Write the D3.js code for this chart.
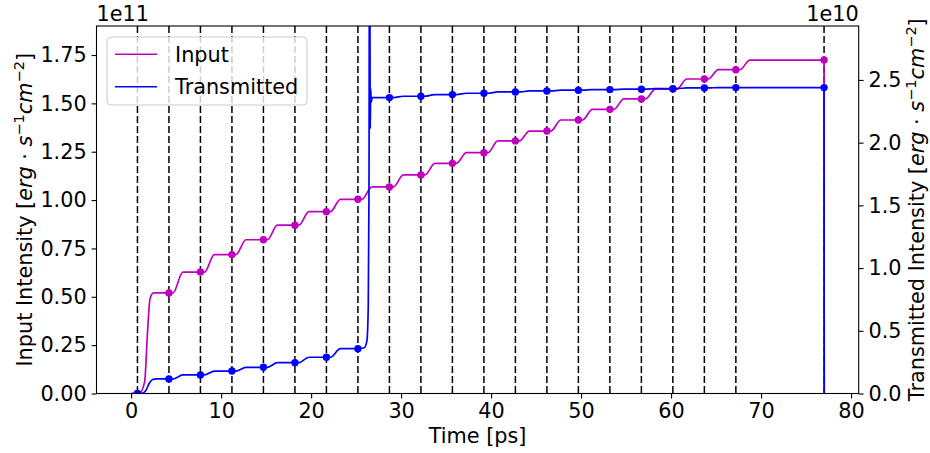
<!DOCTYPE html>
<html>
<head>
<meta charset="utf-8">
<script src="https://cdn.jsdelivr.net/npm/d3@7"></script>
<style>
  html, body { margin: 0; padding: 0; background: #fff; }
  svg { display: block; font-family: "DejaVu Sans", sans-serif; }
</style>
</head>
<body>
<svg id="chart" width="930" height="453"></svg>
<script>
// Pulse arrival times (dashed guides), in ps
const pulseTimes = [0.7, 4.2, 7.7, 11.2, 14.7, 18.2, 21.7, 25.2, 28.7, 32.2, 35.7,
                    39.2, 42.7, 46.2, 49.7, 53.2, 56.7, 60.2, 63.7, 67.2, 77.0];

// Input intensity sampled at each pulse time [erg s^-1 cm^-2]
const inputAtPulse = [0, 0.520e11, 0.628e11, 0.718e11, 0.795e11, 0.870e11, 0.940e11,
                      1.004e11, 1.068e11, 1.130e11, 1.190e11, 1.245e11, 1.306e11, 1.357e11,
                      1.414e11, 1.469e11, 1.523e11, 1.574e11, 1.626e11, 1.674e11, 1.724e11];

// Transmitted intensity sampled at each pulse time [erg s^-1 cm^-2]
const transmittedAtPulse = [0, 0.116e10, 0.148e10, 0.179e10, 0.209e10, 0.246e10, 0.289e10,
                            0.357e10, 2.359e10, 2.370e10, 2.383e10, 2.394e10, 2.404e10, 2.412e10,
                            2.418e10, 2.423e10, 2.426e10, 2.431e10, 2.436e10, 2.439e10, 2.439e10];

// Detailed segments of the traces where they leave the staircase pattern
const inputRise = [[0.9, 0], [1.5, 0.06e11], [1.8, 0.30e11], [2.1, 0.49e11], [2.5, 0.52e11]];
const transmittedRise = [[1.1, 0], [1.6, 0.02e10], [2.0, 0.08e10], [2.4, 0.112e10], [2.8, 0.116e10]];
const transmittedSwitch = [[25.9, 0.365e10], [26.2, 0.42e10], [26.35, 0.70e10], [26.43, 1.6e10],
                           [26.5, 4.5e10], [26.57, 2.11e10], [26.62, 2.43e10], [26.68, 2.32e10],
                           [26.78, 2.36e10]];

// Step timing after each pulse (start and end of the rise), in ps
const stepWindow = [0.45, 1.55];
const endTime = 77.02;

const xTicks = [0, 10, 20, 30, 40, 50, 60, 70, 80];
const leftTicks = [0, 0.25e11, 0.5e11, 0.75e11, 1.0e11, 1.25e11, 1.5e11, 1.75e11];
const rightTicks = [0, 0.5e10, 1.0e10, 1.5e10, 2.0e10, 2.5e10];

const seriesNames = ["Input", "Transmitted"];
const colors = { input: "#bf00bf", transmitted: "#0000ff" };

// Build the trace vertices: plateau up to each pulse, then a smooth step to the next level
function buildTrace(values, segments) {
  const pts = [[0, 0]];
  for (let k = 0; k < pulseTimes.length; k++) {
    const t = pulseTimes[k];
    pts.push([t, values[k]]);
    if (k === pulseTimes.length - 1) break;
    if (segments[k]) {
      segments[k].forEach(p => pts.push(p));
    } else {
      pts.push([t + stepWindow[0], values[k]]);
      pts.push([t + stepWindow[1], values[k + 1]]);
    }
  }
  pts.push([endTime, 0]);
  return pts;
}

const inputTrace = buildTrace(inputAtPulse, { 0: inputRise });
const transmittedTrace = buildTrace(transmittedAtPulse, { 0: transmittedRise, 7: transmittedSwitch });

const plot = { left: 96.5, right: 858.7, top: 26, bottom: 393.5 };
const FS = 20.8;
const LW = 1.7;

const svg = d3.select("#chart");

const x = d3.scaleLinear().domain([-3.85, 80.85]).range([plot.left, plot.right]);
const yL = d3.scaleLinear().domain([0, 1.9e11]).range([plot.bottom, plot.top]);
const yR = d3.scaleLinear().domain([0, 2.93e10]).range([plot.bottom, plot.top]);

svg.append("defs").append("clipPath").attr("id", "plotClip")
  .append("rect")
  .attr("x", plot.left).attr("y", plot.top)
  .attr("width", plot.right - plot.left).attr("height", plot.bottom - plot.top);

const g = svg.append("g").attr("clip-path", "url(#plotClip)");

// Dashed pulse guides
g.selectAll("line.pulse").data(pulseTimes).join("line")
  .attr("class", "pulse")
  .attr("x1", d => x(d)).attr("x2", d => x(d))
  .attr("y1", plot.top).attr("y2", plot.bottom)
  .attr("stroke", "#000").attr("stroke-width", 1.5)
  .attr("stroke-dasharray", "7,3");

const lineL = d3.line().x(d => x(d[0])).y(d => yL(d[1])).curve(d3.curveMonotoneX);
const lineR = d3.line().x(d => x(d[0])).y(d => yR(d[1])).curve(d3.curveMonotoneX);

// Input trace (left axis)
g.append("path").datum(inputTrace)
  .attr("d", lineL).attr("fill", "none")
  .attr("stroke", colors.input).attr("stroke-width", LW);
g.selectAll("circle.inp").data(pulseTimes).join("circle")
  .attr("class", "inp")
  .attr("cx", d => x(d)).attr("cy", (d, i) => yL(inputAtPulse[i]))
  .attr("r", 3.7).attr("fill", colors.input);

// Transmitted trace (right axis)
g.append("path").datum(transmittedTrace)
  .attr("d", lineR).attr("fill", "none")
  .attr("stroke", colors.transmitted).attr("stroke-width", LW);
g.selectAll("circle.tr").data(pulseTimes).join("circle")
  .attr("class", "tr")
  .attr("cx", d => x(d)).attr("cy", (d, i) => yR(transmittedAtPulse[i]))
  .attr("r", 3.7).attr("fill", colors.transmitted);

// Axes
function styleAxis(sel) {
  sel.selectAll("path.domain").remove();
  sel.selectAll(".tick line").attr("stroke", "#000").attr("stroke-width", 1.1);
  sel.selectAll(".tick text").attr("fill", "#000")
    .style("font-family", "DejaVu Sans").style("font-size", FS + "px");
}

svg.append("g").attr("transform", `translate(0,${plot.bottom})`)
  .call(d3.axisBottom(x).tickValues(xTicks).tickSize(4.9).tickPadding(4.4).tickFormat(d3.format("d")))
  .call(styleAxis);

svg.append("g").attr("transform", `translate(${plot.left},0)`)
  .call(d3.axisLeft(yL).tickValues(leftTicks).tickSize(4.9).tickPadding(4.9)
    .tickFormat(d => (d / 1e11).toFixed(2)))
  .call(styleAxis);

svg.append("g").attr("transform", `translate(${plot.right},0)`)
  .call(d3.axisRight(yR).tickValues(rightTicks).tickSize(4.9).tickPadding(4.9)
    .tickFormat(d => (d / 1e10).toFixed(1)))
  .call(styleAxis);

// Frame
svg.append("rect")
  .attr("x", plot.left).attr("y", plot.top)
  .attr("width", plot.right - plot.left).attr("height", plot.bottom - plot.top)
  .attr("fill", "none").attr("stroke", "#000").attr("stroke-width", 1.1);

// Offset (exponent) labels
svg.append("text").attr("x", plot.left).attr("y", 21)
  .style("font-size", FS + "px").text("1e11");
svg.append("text").attr("x", plot.right).attr("y", 21).attr("text-anchor", "end")
  .style("font-size", FS + "px").text("1e10");

// Axis titles
svg.append("text").attr("x", (plot.left + plot.right) / 2).attr("y", 443)
  .attr("text-anchor", "middle").style("font-size", FS + "px").text("Time [ps]");

function unitLabel(sel, prefix) {
  sel.append("tspan").text(prefix + " [");
  sel.append("tspan").style("font-style", "italic").text("erg");
  sel.append("tspan").text(" \u00b7 ");
  sel.append("tspan").style("font-style", "italic").text("s");
  sel.append("tspan").attr("dy", -8).style("font-size", "14.5px").text("\u22121");
  sel.append("tspan").attr("dy", 8).style("font-style", "italic").text("cm");
  sel.append("tspan").attr("dy", -8).style("font-size", "14.5px").text("\u22122");
  sel.append("tspan").attr("dy", 8).text("]");
}

svg.append("text")
  .attr("transform", `translate(32,${(plot.top + plot.bottom) / 2}) rotate(-90)`)
  .attr("text-anchor", "middle").style("font-size", FS + "px")
  .call(unitLabel, "Input Intensity");

svg.append("text")
  .attr("transform", `translate(924,${(plot.top + plot.bottom) / 2}) rotate(-90)`)
  .attr("text-anchor", "middle").style("font-size", FS + "px")
  .call(unitLabel, "Transmitted Intensity");

// Legend
const lg = svg.append("g");
lg.append("rect").attr("x", 107).attr("y", 37).attr("width", 200).attr("height", 68)
  .attr("rx", 4).attr("fill", "rgba(255,255,255,0.8)").attr("stroke", "#cccccc").attr("stroke-width", 1);
[colors.input, colors.transmitted].forEach((c, i) => {
  const yy = 54.3 + i * 32.4;
  lg.append("line").attr("x1", 115).attr("x2", 157).attr("y1", yy).attr("y2", yy)
    .attr("stroke", c).attr("stroke-width", 1.4);
  lg.append("text").attr("x", 175).attr("y", yy + 7.5)
    .style("font-size", FS + "px").text(seriesNames[i]);
});
</script>
</body>
</html>
